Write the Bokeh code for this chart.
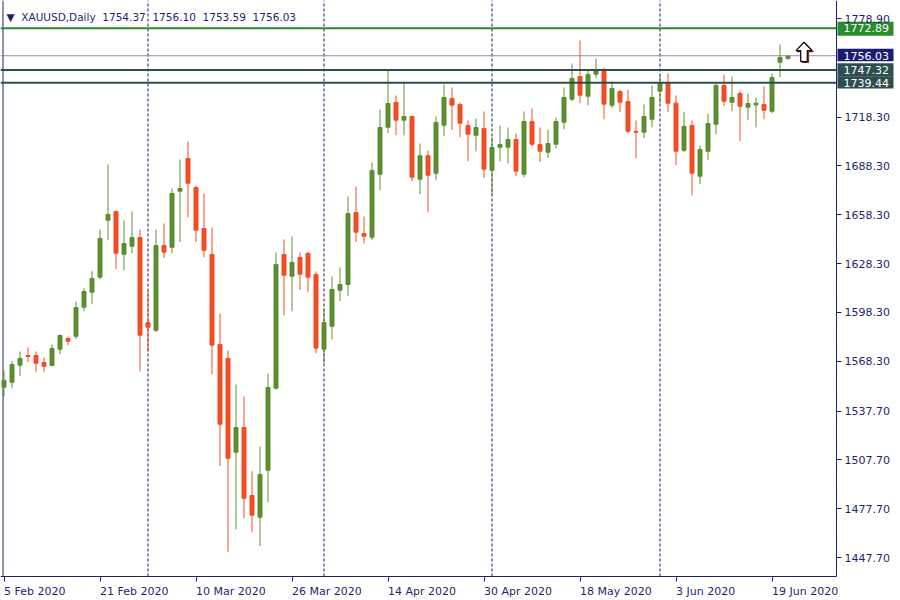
from bokeh.plotting import figure
from bokeh.models import Range1d, FixedTicker, Label, ColumnDataSource, NumeralTickFormatter
from bokeh.embed import file_html
from bokeh.resources import INLINE

# ---------------- data ----------------
DATES = [
    "2020-02-05", "2020-02-06", "2020-02-07", "2020-02-10", "2020-02-11", "2020-02-12", "2020-02-13",
    "2020-02-14", "2020-02-17", "2020-02-18", "2020-02-19", "2020-02-20", "2020-02-21", "2020-02-24",
    "2020-02-25", "2020-02-26", "2020-02-27", "2020-02-28",
    "2020-03-02", "2020-03-03", "2020-03-04", "2020-03-05", "2020-03-06", "2020-03-09", "2020-03-10",
    "2020-03-11", "2020-03-12", "2020-03-13", "2020-03-16", "2020-03-17", "2020-03-18", "2020-03-19",
    "2020-03-20", "2020-03-23", "2020-03-24", "2020-03-25", "2020-03-26", "2020-03-27", "2020-03-30",
    "2020-03-31",
    "2020-04-01", "2020-04-02", "2020-04-03", "2020-04-06", "2020-04-07", "2020-04-08", "2020-04-09",
    "2020-04-13", "2020-04-14", "2020-04-15", "2020-04-16", "2020-04-17", "2020-04-20", "2020-04-21",
    "2020-04-22", "2020-04-23", "2020-04-24", "2020-04-27", "2020-04-28", "2020-04-29", "2020-04-30",
    "2020-05-01", "2020-05-04", "2020-05-05", "2020-05-06", "2020-05-07", "2020-05-08", "2020-05-11",
    "2020-05-12", "2020-05-13", "2020-05-14", "2020-05-15", "2020-05-18", "2020-05-19", "2020-05-20",
    "2020-05-21", "2020-05-22", "2020-05-25", "2020-05-26", "2020-05-27", "2020-05-28", "2020-05-29",
    "2020-06-01", "2020-06-02", "2020-06-03", "2020-06-04", "2020-06-05", "2020-06-08", "2020-06-09",
    "2020-06-10", "2020-06-11", "2020-06-12", "2020-06-15", "2020-06-16", "2020-06-17", "2020-06-18",
    "2020-06-19", "2020-06-22", "2020-06-23",
]

OPEN = [
    1552.35, 1555.42, 1565.87, 1571.83, 1571.83, 1567.53, 1565.68, 1575.70, 1582.28, 1583.69,
    1601.51, 1610.73, 1619.94, 1654.97, 1660.31, 1634.08, 1638.99, 1644.34, 1592.11, 1587.38,
    1639.42, 1638.38, 1672.79, 1692.88, 1675.06, 1649.87, 1633.89, 1578.59, 1569.99, 1512.41,
    1527.59, 1485.80, 1472.47, 1501.35, 1551.74, 1633.89, 1620.56, 1632.05, 1634.51, 1621.60,
    1575.70, 1589.83, 1611.95, 1615.46, 1659.70, 1646.80, 1644.52, 1683.24, 1712.12, 1727.29,
    1716.42, 1718.69, 1680.16, 1694.54, 1683.85, 1713.34, 1729.75, 1726.06, 1713.16, 1707.20,
    1711.32, 1685.69, 1699.83, 1699.83, 1704.56, 1683.24, 1715.62, 1701.48, 1696.75, 1701.67,
    1715.19, 1729.32, 1743.27, 1731.16, 1744.68, 1747.57, 1725.63, 1734.05, 1727.91, 1709.47,
    1709.04, 1717.03, 1734.24, 1739.15, 1726.86, 1697.98, 1713.16, 1682.01, 1697.37, 1713.96,
    1737.74, 1727.48, 1732.82, 1724.41, 1725.88, 1726.06, 1721.95, 1752.06, 1754.37,
]
HIGH = [
    1562.61, 1568.32, 1574.29, 1576.75, 1574.29, 1570.60, 1578.59, 1584.73, 1583.50, 1605.01,
    1613.00, 1623.63, 1649.25, 1689.20, 1660.93, 1654.78, 1660.31, 1649.25, 1611.34, 1649.25,
    1652.94, 1674.45, 1692.27, 1703.33, 1676.29, 1671.38, 1650.48, 1597.64, 1574.90, 1554.01,
    1546.64, 1500.73, 1515.91, 1560.77, 1635.12, 1643.11, 1644.95, 1635.12, 1635.74, 1623.45,
    1600.71, 1620.37, 1625.90, 1669.53, 1675.68, 1657.24, 1690.42, 1722.99, 1747.57, 1731.59,
    1739.58, 1719.30, 1702.10, 1697.80, 1718.69, 1738.35, 1736.51, 1727.29, 1716.23, 1717.46,
    1721.76, 1705.79, 1713.16, 1711.93, 1708.24, 1721.76, 1723.61, 1711.93, 1710.70, 1718.08,
    1736.51, 1751.26, 1765.39, 1747.57, 1754.33, 1748.80, 1740.20, 1735.28, 1735.28, 1716.23,
    1726.06, 1737.74, 1744.50, 1745.30, 1731.59, 1721.33, 1716.23, 1700.87, 1720.53, 1739.58,
    1744.50, 1743.27, 1734.67, 1732.82, 1730.37, 1737.12, 1745.11, 1762.93, 1756.10,
]
LOW = [
    1546.64, 1551.74, 1559.11, 1567.71, 1561.57, 1561.57, 1565.26, 1572.63, 1578.16, 1581.85,
    1599.05, 1603.35, 1618.71, 1642.68, 1624.86, 1624.24, 1634.69, 1562.18, 1574.47, 1586.15,
    1631.62, 1634.69, 1641.45, 1656.81, 1641.45, 1632.23, 1560.34, 1503.81, 1450.96, 1465.09,
    1471.85, 1463.25, 1454.65, 1481.69, 1550.90, 1596.59, 1599.05, 1611.95, 1610.73, 1573.25,
    1567.10, 1581.85, 1605.20, 1608.27, 1641.45, 1640.84, 1642.68, 1673.40, 1708.43, 1707.20,
    1707.20, 1678.93, 1670.95, 1659.88, 1679.55, 1706.59, 1710.27, 1705.97, 1691.22, 1697.37,
    1680.78, 1670.33, 1691.22, 1689.99, 1682.01, 1681.39, 1700.44, 1690.61, 1693.07, 1699.21,
    1710.89, 1728.09, 1726.86, 1725.63, 1742.22, 1717.03, 1723.79, 1721.33, 1708.43, 1693.07,
    1705.36, 1712.12, 1726.86, 1721.33, 1688.77, 1696.75, 1670.33, 1677.09, 1691.84, 1707.81,
    1725.02, 1721.95, 1703.51, 1716.42, 1712.12, 1717.03, 1720.72, 1742.84, 1753.59,
]
CLOSE = [
    1556.47, 1566.30, 1569.99, 1571.22, 1567.10, 1565.26, 1576.13, 1584.12, 1580.62, 1601.32,
    1611.16, 1619.14, 1643.72, 1658.47, 1634.69, 1640.65, 1644.34, 1584.30, 1589.22, 1639.42,
    1635.31, 1671.38, 1674.45, 1677.70, 1648.82, 1636.53, 1578.16, 1529.61, 1508.72, 1527.59,
    1484.14, 1473.70, 1498.71, 1552.17, 1627.75, 1621.17, 1628.98, 1621.79, 1619.94, 1576.32,
    1592.11, 1612.39, 1615.46, 1659.09, 1647.60, 1645.14, 1685.51, 1711.93, 1726.68, 1716.42,
    1718.69, 1681.39, 1694.54, 1682.62, 1715.00, 1730.37, 1725.63, 1714.57, 1707.81, 1711.93,
    1686.31, 1699.64, 1701.48, 1704.56, 1685.08, 1715.62, 1701.67, 1697.37, 1702.10, 1715.62,
    1730.37, 1742.04, 1731.78, 1744.50, 1746.96, 1726.25, 1735.90, 1727.48, 1709.66, 1709.04,
    1718.69, 1730.37, 1739.15, 1726.86, 1697.37, 1712.55, 1683.85, 1698.41, 1714.39, 1737.74,
    1728.09, 1730.37, 1725.02, 1726.68, 1726.86, 1722.56, 1742.66, 1754.94, 1756.03,
]

TICK_DATES = ["2020-02-05", "2020-02-21", "2020-03-10", "2020-03-26", "2020-04-14",
              "2020-04-30", "2020-05-18", "2020-06-03", "2020-06-19"]
TICK_LABELS = ["5 Feb 2020", "21 Feb 2020", "10 Mar 2020", "26 Mar 2020", "14 Apr 2020",
               "30 Apr 2020", "18 May 2020", "3 Jun 2020", "19 Jun 2020"]
PRICE_TICKS = [1447.70, 1477.70, 1507.70, 1537.70, 1568.30, 1598.30, 1628.30,
               1658.30, 1688.30, 1718.30, 1778.90]

RESISTANCE = 1772.89
SUPPORTS = [1747.32, 1739.44]
BID = 1756.03
SYMBOL = "XAUUSD"
PERIOD = "Daily"
ARROW_INDEX = 100
ARROW_TOP = 1764.3
ARROW_NECK = 1759.2
ARROW_BOTTOM = 1752.5

# ---------------- style / layout ----------------
NAVY = "#1f1f70"
SEP = "#14145e"
UP = "#5b8e31"
DOWN = "#f24d25"
GREEN_LINE = "#2a8c2a"
SLATE = "#2f4f4f"
BID_LINE = "#8c919e"
BID_BOX = "#1c1c72"
FONT = "DejaVu Sans"

W, H = 900, 600
BAR_PX = 8.0           # pixels per bar
BAR0_PX = 3.5          # pixel position of the first bar
PRICE_PX = 539 / 331.2 # pixels per price unit
TOP_PRICE = 1789.97    # price at the top pixel row


def xd(px):
    return (px - BAR0_PX) / BAR_PX


def yd(py):
    return TOP_PRICE - py / PRICE_PX


X0, X1 = xd(0), xd(W)
Y0, Y1 = yd(H), yd(0)
AXIS_X = xd(836)       # right price axis
AXIS_Y = yd(576)       # bottom time axis
PX = 1 / BAR_PX
PY = 1 / PRICE_PX

n = len(DATES)
xs = list(range(n))
colors = [UP if c >= o else DOWN for o, c in zip(OPEN, CLOSE)]
src = ColumnDataSource(dict(
    x=xs, open=OPEN, high=HIGH, low=LOW, close=CLOSE,
    top=[max(o, c) for o, c in zip(OPEN, CLOSE)],
    bottom=[min(o, c) for o, c in zip(OPEN, CLOSE)],
    color=colors,
))

p = figure(width=W, height=H, x_range=Range1d(X0, X1), y_range=Range1d(Y0, Y1),
           y_axis_location="right", output_backend="svg", toolbar_location=None,
           min_border_left=0, min_border_top=0, min_border_right=0, min_border_bottom=0,
           background_fill_color="white", border_fill_color="white")
p.outline_line_color = None
p.grid.visible = False

for ax in (p.xaxis[0], p.yaxis[0]):
    ax.axis_line_color = NAVY
    ax.major_tick_line_color = NAVY
    ax.minor_tick_line_color = None
    ax.major_tick_out = 5
    ax.major_tick_in = 0
    ax.major_label_text_color = NAVY
    ax.major_label_text_font = FONT
    ax.major_label_text_font_size = "11px"

tick_idx = [DATES.index(d) for d in TICK_DATES]
p.xaxis.fixed_location = AXIS_Y
p.xaxis.bounds = (X0, AXIS_X)
p.xaxis.ticker = FixedTicker(ticks=tick_idx)
p.xaxis.major_label_text_color = None

p.yaxis.fixed_location = AXIS_X
p.yaxis.bounds = (AXIS_Y, Y1)
p.yaxis.ticker = FixedTicker(ticks=PRICE_TICKS)
p.yaxis.formatter = NumeralTickFormatter(format="0.00")
p.yaxis.major_label_standoff = 3

# left border
p.segment(x0=[xd(2.5)], y0=[AXIS_Y], x1=[xd(2.5)], y1=[Y1], line_color=NAVY, line_width=1)

# month separators (below the candles)
sep = [i for i in range(1, n) if DATES[i][5:7] != DATES[i - 1][5:7]]
p.segment(x0=sep, y0=[AXIS_Y] * len(sep), x1=sep, y1=[Y1] * len(sep),
          line_color=SEP, line_width=1, line_dash="3 2")

# candles
p.segment(x0="x", y0="low", x1="x", y1="high", color="color", line_width=1, source=src)
p.vbar(x="x", width=4 * PX, top="top", bottom="bottom", fill_color="color",
       line_color="color", line_width=1, source=src)

# horizontal levels
p.segment(x0=[X0], y0=[RESISTANCE], x1=[AXIS_X], y1=[RESISTANCE], line_color=GREEN_LINE, line_width=2)
p.segment(x0=[X0], y0=[BID], x1=[AXIS_X], y1=[BID], line_color=BID_LINE, line_width=1)
p.segment(x0=[X0] * 2, y0=SUPPORTS, x1=[AXIS_X] * 2, y1=SUPPORTS, line_color=SLATE, line_width=2)

# price boxes on the axis: (value, colour, pixels above, pixels below)
boxes = [(RESISTANCE, GREEN_LINE, 6.5, 7.5), (BID, BID_BOX, 7.0, 5.5),
         (SUPPORTS[0], SLATE, 6.7, 6.6), (SUPPORTS[1], SLATE, 6.6, 5.8)]
p.quad(left=[AXIS_X + 1 * PX] * len(boxes), right=[xd(893)] * len(boxes),
       top=[v + up * PY for v, _, up, _ in boxes], bottom=[v - dn * PY for v, _, _, dn in boxes],
       fill_color=[c for _, c, _, _ in boxes], line_color=None)
for val, _, _, _ in boxes:
    p.add_layout(Label(x=xd(843), y=val, text=f"{val:.2f}", text_align="left",
                       text_baseline="middle", text_color="white", text_font=FONT,
                       text_font_size="11px"))

# date labels, left-aligned at their ticks
for i, lbl in zip(tick_idx, TICK_LABELS):
    p.add_layout(Label(x=i, y=yd(591), text=lbl, text_align="left", text_baseline="alphabetic",
                       text_color=NAVY, text_font=FONT, text_font_size="11px"))

# arrow
hw, sw = 8 * PX, 3.3 * PX
a = ARROW_INDEX
arrow_x = [a, a + hw, a + sw, a + sw, a - sw, a - sw, a - hw]
arrow_y = [ARROW_TOP, ARROW_NECK, ARROW_NECK, ARROW_BOTTOM, ARROW_BOTTOM, ARROW_NECK, ARROW_NECK]
p.patch([v + 1.2 * PX for v in arrow_x], [v - 1.0 * PY for v in arrow_y],
        fill_color="white", line_color="#8b2a1a", line_width=1.2)
p.patch(arrow_x, arrow_y, fill_color="white", line_color="black", line_width=1.2)

# header
last = n - 1
header = ("\u25bc\u00a0 " + SYMBOL + "," + PERIOD + "\u00a0\u00a0" +
          "\u00a0\u00a0".join(f"{v:.2f}" for v in (OPEN[last], HIGH[last], LOW[last], CLOSE[last])))
p.add_layout(Label(x=xd(6), y=yd(16.7), text=header, text_align="left",
                   text_baseline="alphabetic", text_color=NAVY, text_font=FONT,
                   text_font_size="10.5px"))

open("out.html", "w").write(file_html(p, INLINE))
